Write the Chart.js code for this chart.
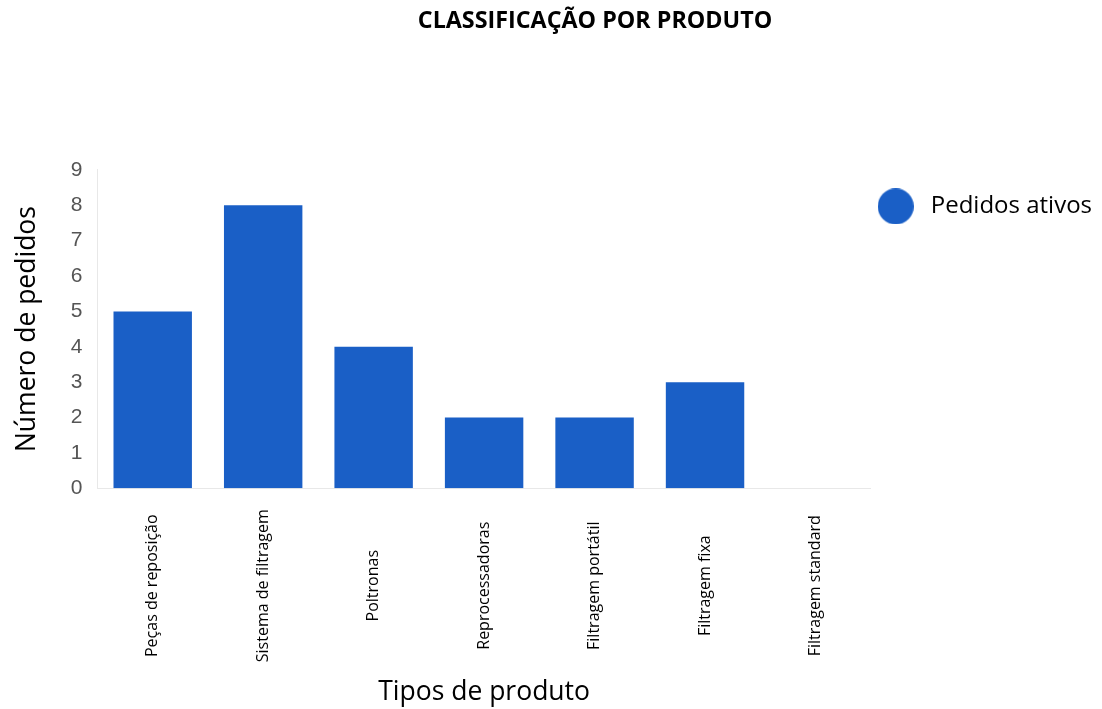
<!DOCTYPE html>
<html>
<head>
<meta charset="utf-8">
<script src="https://cdn.jsdelivr.net/npm/chart.js@4.4.0/dist/chart.umd.min.js"></script>
<style>
  html, body { margin: 0; padding: 0; background: #fff; }
  #wrap { width: 1102px; height: 709px; }
</style>
</head>
<body>
<div id="wrap"><canvas id="chart"></canvas></div>
<script>
// chart data
const categories = [
  "Peças de reposição",
  "Sistema de filtragem",
  "Poltronas",
  "Reprocessadoras",
  "Filtragem portátil",
  "Filtragem fixa",
  "Filtragem standard"
];
const activeOrders = [5, 8, 4, 2, 2, 3, 0];
const seriesName = "Pedidos ativos";
const yTicks = [0, 1, 2, 3, 4, 5, 6, 7, 8, 9];

const barColor = "#1a5fc6";
const labelFont = "16px 'Open Sans'";

// round legend marker (drawn as an image so the legend box can be wider)
const dot = document.createElement("canvas");
dot.width = 36;
dot.height = 36;
const dctx = dot.getContext("2d");
dctx.fillStyle = barColor;
dctx.beginPath();
dctx.arc(18, 18, 18, 0, Math.PI * 2);
dctx.fill();

// draws the category labels rotated and centred in the reserved band
const centeredLabels = {
  id: "centeredLabels",
  afterLayout(chart) {
    // title sits a bit right of the canvas centre
    if (chart.titleBlock) {
      chart.titleBlock.left += 38;
      chart.titleBlock.right += 38;
    }
  },
  afterDraw(chart) {
    const ctx = chart.ctx;
    const x = chart.scales.x;
    ctx.save();
    ctx.font = labelFont;
    let maxW = 0;
    categories.forEach((c) => { maxW = Math.max(maxW, ctx.measureText(c).width); });
    const cy = x.top + 21 + maxW / 2;
    ctx.fillStyle = "#000";
    ctx.textAlign = "center";
    ctx.textBaseline = "middle";
    categories.forEach((c, i) => {
      ctx.save();
      ctx.translate(x.getPixelForTick(i), cy);
      ctx.rotate(-Math.PI / 2);
      ctx.fillText(c, 0, 0);
      ctx.restore();
    });
    ctx.restore();
  }
};

const ctx = document.getElementById("chart").getContext("2d");
new Chart(ctx, {
  type: "bar",
  data: {
    labels: categories,
    datasets: [
      {
        label: seriesName,
        data: activeOrders,
        backgroundColor: barColor,
        borderWidth: 0,
        barPercentage: 0.71,
        categoryPercentage: 1
      }
    ]
  },
  options: {
    responsive: true,
    maintainAspectRatio: false,
    animation: false,
    layout: { padding: { left: 12, right: 0, top: 0, bottom: 1 } },
    scales: {
      y: {
        min: 0,
        max: 9,
        afterBuildTicks: (scale) => { scale.ticks = yTicks.map((v) => ({ value: v })); },
        grid: { display: false, drawTicks: false },
        border: { display: true, color: "#e8e8e8", width: 1 },
        ticks: {
          color: "#555",
          font: { family: "'Liberation Sans', Arial", size: 21 },
          padding: 15
        },
        title: {
          display: true,
          text: "Número de pedidos",
          color: "#000",
          font: { family: "'Open Sans'", size: 26.5 },
          padding: { top: 0, bottom: 12 }
        }
      },
      x: {
        grid: { display: false, drawTicks: false },
        border: { display: true, color: "#e8e8e8", width: 1 },
        ticks: {
          color: "rgba(0,0,0,0)",
          font: { family: "'Open Sans'", size: 16 },
          minRotation: 90,
          maxRotation: 90,
          padding: 10
        },
        title: {
          display: true,
          text: "Tipos de produto",
          color: "#000",
          font: { family: "'Open Sans'", size: 26.5 },
          padding: { top: 15, bottom: 0 }
        }
      }
    },
    plugins: {
      title: {
        display: true,
        text: "CLASSIFICAÇÃO POR PRODUTO",
        color: "#000",
        font: { family: "'Open Sans'", size: 23.3, weight: "bold" },
        padding: { top: 7, bottom: 135 }
      },
      legend: {
        display: true,
        position: "right",
        align: "start",
        title: {
          display: true,
          text: "",
          padding: { top: 178, bottom: 0 }
        },
        labels: {
          usePointStyle: true,
          pointStyle: dot,
          pointStyleWidth: 46,
          color: "#000",
          font: { family: "'Open Sans'", size: 24 },
          padding: 2
        }
      },
      tooltip: { enabled: false }
    }
  },
  plugins: [centeredLabels]
});
</script>
</body>
</html>
